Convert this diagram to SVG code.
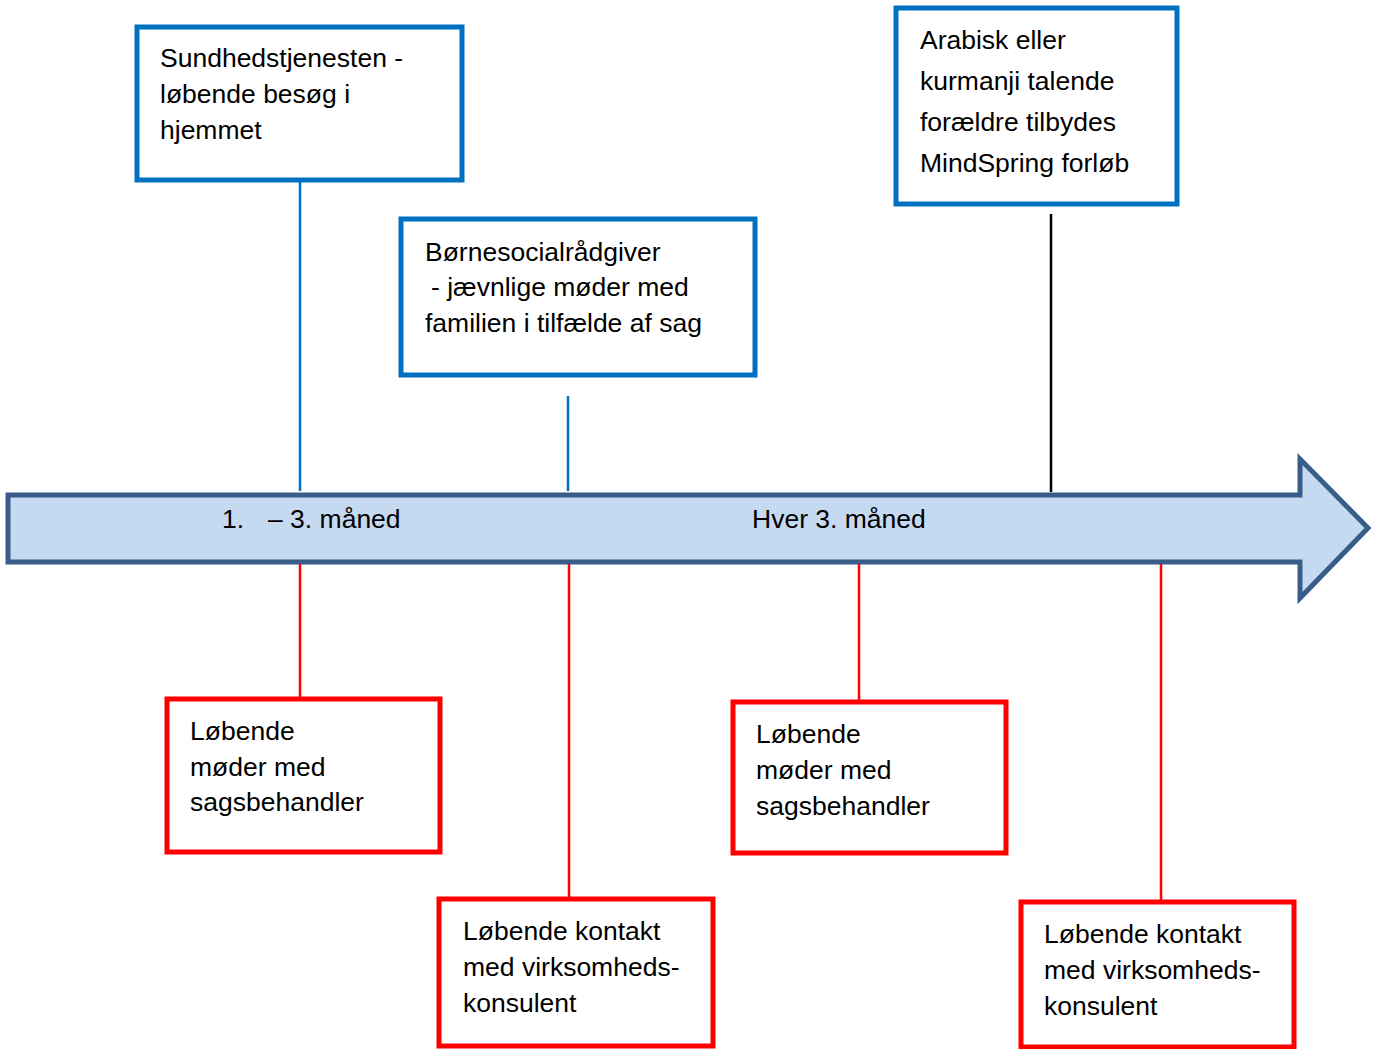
<svg xmlns="http://www.w3.org/2000/svg" width="1374" height="1049" viewBox="0 0 1374 1049">
<style>
text{font-family:"Liberation Sans",Arial,sans-serif;font-size:26.5px;fill:#000}
.blue{fill:#fff;stroke:#0070C0;stroke-width:5}
.red{fill:#fff;stroke:#FF0000;stroke-width:5}
.lb{stroke:#0070C0;stroke-width:2.5}
.lr{stroke:#FF0000;stroke-width:2.5}
.lk{stroke:#000;stroke-width:2.5}
</style>
<rect width="1374" height="1049" fill="#fff"/>
<g id="timeline">
<path d="M8,495 L1300,495 L1300,459 L1368,528 L1300,598 L1300,562 L8,562 Z" fill="#C5D9F1" stroke="#385D8A" stroke-width="5" stroke-linejoin="miter"/>
<text x="222" y="528">1.</text>
<text x="268" y="528">– 3. måned</text>
<text x="752" y="528">Hver 3. måned</text>
</g>
<g id="connectors">
<line class="lb" x1="300" y1="180" x2="300" y2="491"/>
<line class="lb" x1="568" y1="396" x2="568" y2="491"/>
<line class="lk" x1="1051" y1="214" x2="1051" y2="492"/>
<line class="lr" x1="300" y1="564" x2="300" y2="699"/>
<line class="lr" x1="569" y1="564" x2="569" y2="899"/>
<line class="lr" x1="859" y1="564" x2="859" y2="702"/>
<line class="lr" x1="1161" y1="564" x2="1161" y2="902"/>
</g>
<g id="sundhed">
<rect class="blue" x="137" y="27" width="325" height="153"/>
<text x="160" y="67">Sundhedstjenesten -</text>
<text x="160" y="103">løbende besøg i</text>
<text x="160" y="139">hjemmet</text>
</g>
<g id="born">
<rect class="blue" x="401" y="219" width="354" height="156"/>
<text x="425" y="261">Børnesocialrådgiver</text>
<text x="431" y="296">- jævnlige møder med</text>
<text x="425" y="332">familien i tilfælde af sag</text>
</g>
<g id="arabisk">
<rect class="blue" x="896" y="8" width="281" height="196"/>
<text x="920" y="49">Arabisk eller</text>
<text x="920" y="90">kurmanji talende</text>
<text x="920" y="131">forældre tilbydes</text>
<text x="920" y="172">MindSpring forløb</text>
</g>
<g id="sag1">
<rect class="red" x="167" y="699" width="273" height="153"/>
<text x="190" y="740">Løbende</text>
<text x="190" y="776">møder med</text>
<text x="190" y="811">sagsbehandler</text>
</g>
<g id="virk1">
<rect class="red" x="439" y="899" width="274" height="147"/>
<text x="463" y="940">Løbende kontakt</text>
<text x="463" y="976">med virksomheds-</text>
<text x="463" y="1012">konsulent</text>
</g>
<g id="sag2">
<rect class="red" x="733" y="702" width="273" height="151"/>
<text x="756" y="743">Løbende</text>
<text x="756" y="779">møder med</text>
<text x="756" y="815">sagsbehandler</text>
</g>
<g id="virk2">
<rect class="red" x="1021" y="902" width="273" height="145"/>
<text x="1044" y="943">Løbende kontakt</text>
<text x="1044" y="979">med virksomheds-</text>
<text x="1044" y="1015">konsulent</text>
</g>
</svg>
